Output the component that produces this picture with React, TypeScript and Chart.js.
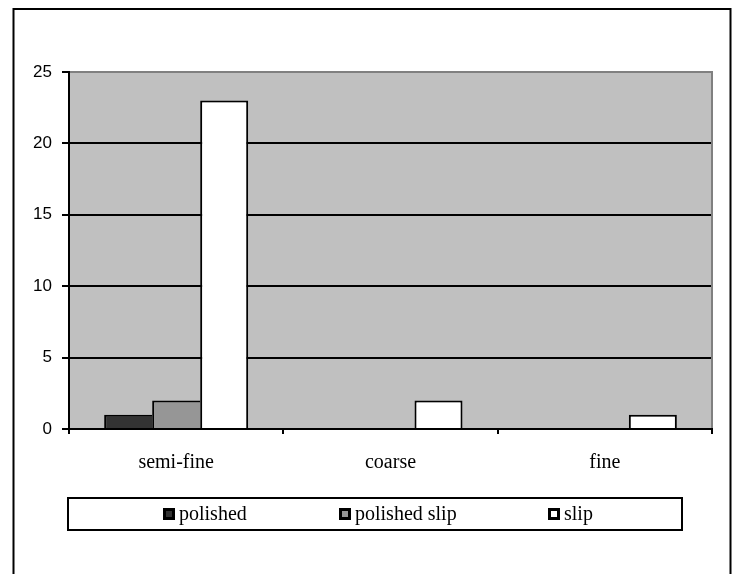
import React, { useEffect, useRef } from "react";
import { Chart, registerables } from "chart.js";

Chart.register(...registerables);

const categories = ["semi-fine", "coarse", "fine"];
const seriesNames = ["polished", "polished slip", "slip"];
const polished = [1, null, null];
const polishedSlip = [2, null, null];
const slip = [23, 2, 1];
const yMin = 0;
const yMax = 25;
const yStep = 5;
const seriesColors = ["#333333", "#969696", "#FFFFFF"];
const legendSwatchX = [163, 339, 548];

const W = 735;
const H = 574;

const decorPlugin = {
  id: "decor",
  beforeDraw(chart: any) {
    const { ctx, chartArea } = chart;
    ctx.save();
    ctx.fillStyle = "#FFFFFF";
    ctx.fillRect(0, 0, W, H);
    ctx.fillStyle = "#C0C0C0";
    ctx.fillRect(chartArea.left, chartArea.top, chartArea.right - chartArea.left, chartArea.bottom - chartArea.top);
    ctx.restore();
  },
  afterDraw(chart: any) {
    const { ctx, chartArea } = chart;
    ctx.save();
    // plot area gray border (top & right)
    ctx.strokeStyle = "#808080";
    ctx.lineWidth = 2;
    ctx.beginPath();
    ctx.moveTo(chartArea.left + 1, chartArea.top);
    ctx.lineTo(chartArea.right, chartArea.top);
    ctx.lineTo(chartArea.right, chartArea.bottom - 1);
    ctx.stroke();

    // outer chart border (bottom edge is off-canvas)
    ctx.strokeStyle = "#000000";
    ctx.lineWidth = 2;
    ctx.strokeRect(13.5, 9, 717, 600);

    // legend box
    ctx.strokeRect(68, 498, 614, 32);
    ctx.font = '20px "Liberation Serif", "Times New Roman", serif';
    ctx.textBaseline = "alphabetic";
    ctx.textAlign = "left";
    seriesNames.forEach((name, i) => {
      const x = legendSwatchX[i];
      ctx.fillStyle = "#000000";
      ctx.fillRect(x, 508, 12, 12);
      ctx.fillStyle = seriesColors[i];
      ctx.fillRect(x + 3, 511, 6, 6);
      ctx.fillStyle = "#000000";
      ctx.fillText(name, x + 16, 520);
    });
    ctx.restore();
  },
};

export default function App() {
  const ref = useRef<HTMLCanvasElement | null>(null);

  useEffect(() => {
    if (!ref.current) return;
    const sideBorder = (right: number) => ({ top: 2, left: 2, right, bottom: 0 });
    const chart = new Chart(ref.current, {
      type: "bar",
      data: {
        labels: categories,
        datasets: [
          {
            label: seriesNames[0],
            data: polished,
            backgroundColor: seriesColors[0],
            borderColor: "#000000",
            borderWidth: sideBorder(0),
            borderSkipped: "start",
          },
          {
            label: seriesNames[1],
            data: polishedSlip,
            backgroundColor: seriesColors[1],
            borderColor: "#000000",
            borderWidth: sideBorder(0),
            borderSkipped: "start",
          },
          {
            label: seriesNames[2],
            data: slip,
            backgroundColor: seriesColors[2],
            borderColor: "#000000",
            borderWidth: sideBorder(2),
            borderSkipped: "start",
          },
        ],
      },
      options: {
        animation: false,
        responsive: false,
        maintainAspectRatio: false,
        devicePixelRatio: 1,
        layout: { padding: { top: 72, right: 23, bottom: 85, left: 0 } },
        datasets: {
          bar: { categoryPercentage: 0.672, barPercentage: 1 },
        },
        plugins: {
          legend: { display: false },
          tooltip: { enabled: false },
          title: { display: false },
        },
        scales: {
          x: {
            offset: true,
            afterFit: (s: any) => {
              s.height = 60;
            },
            grid: {
              offset: true,
              drawOnChartArea: false,
              drawTicks: true,
              tickLength: 5,
              color: "#000000",
              lineWidth: 2,
            },
            border: { display: true, color: "#000000", width: 2 },
            ticks: {
              color: "#000000",
              padding: 17,
              maxRotation: 0,
              font: { family: '"Liberation Serif", "Times New Roman", serif', size: 20 },
            },
          },
          y: {
            min: yMin,
            max: yMax,
            afterFit: (s: any) => {
              s.width = 69;
            },
            grid: {
              color: "#000000",
              lineWidth: 2,
              drawTicks: true,
              tickLength: 7,
            },
            border: { display: true, color: "#000000", width: 2 },
            ticks: {
              stepSize: yStep,
              color: "#000000",
              padding: 10,
              font: { family: '"Liberation Sans", Arial, sans-serif', size: 17 },
            },
          },
        },
      },
      plugins: [decorPlugin],
    } as any);
    return () => chart.destroy();
  }, []);

  return (
    <div style={{ position: "fixed", left: 0, top: 0, width: W, height: H, background: "#fff" }}>
      <canvas ref={ref} width={W} height={H} style={{ display: "block", width: W, height: H }} />
    </div>
  );
}
